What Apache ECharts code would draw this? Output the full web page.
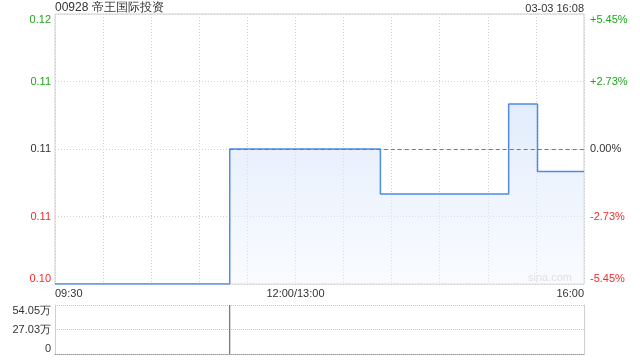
<!DOCTYPE html>
<html><head><meta charset="utf-8">
<script src="https://cdn.jsdelivr.net/npm/echarts@6/dist/echarts.min.js"></script>
<style>html,body{margin:0;padding:0;background:#fff}#c{width:640px;height:360px}</style>
</head><body><div id="c"></div>
<script>
// ---- data ----
const chartTitle = '00928 帝王国际投资';
const stampText = '03-03 16:08';
const prevClose = 0.110;
const changeTimes = ['09:30', '11:19', '13:53', '15:13', '15:31', '16:00'];
const changePrices = [0.104, 0.110, 0.108, 0.112, 0.109, 0.109];
const volumeTimes = ['11:19'];
const volumeValues = [540540];
const timeTickValues = ['09:30', '12:00', '16:00'];
const timeTickLabels = ['09:30', '12:00/13:00', '16:00'];
const priceRangeThousandths = 6;   // ±0.006 around previous close
const priceStepThousandths = 3;

// ---- helpers ----
function toMin(t) {
  const [h, m] = t.split(':').map(Number);
  const v = h * 60 + m;
  return v <= 720 ? v - 570 : v - 780 + 150;
}
const totalMin = toMin('16:00');
const base = Math.round(prevClose * 1000);
const priceData = changeTimes.map((t, i) => [toMin(t), Math.round(changePrices[i] * 1000) - base]);
const volData = volumeTimes.map((t, i) => [toMin(t), volumeValues[i]]);
const volMax = Math.max(...volumeValues);
const tickMap = {};
timeTickValues.forEach((t, i) => { tickMap[toMin(t)] = timeTickLabels[i]; });

const GREEN = '#1fa51f', RED = '#f52a2a', TXT = '#333';
function sideColor(v) { return v > 0 ? GREEN : (v < 0 ? RED : TXT); }
const FONT = 'Liberation Sans, Arial, sans-serif';

const chart = echarts.init(document.getElementById('c'), null, { renderer: 'canvas' });
chart.setOption({
  animation: false,
  textStyle: { fontFamily: FONT },
  grid: [
    { left: 55, top: 14, width: 529, height: 270, show: true, borderColor: '#cfcfcf', borderWidth: 1 },
    { left: 55, top: 305, width: 529, height: 49 }
  ],
  xAxis: [
    {
      gridIndex: 0, type: 'value', min: 0, max: totalMin, interval: 30,
      axisLine: { show: false }, axisTick: { show: false },
      splitLine: { show: true, lineStyle: { color: '#d0d0d0', type: [1, 2] } },
      axisLabel: {
        show: true, margin: 4, color: TXT, fontSize: 11, fontFamily: FONT,
        alignMinLabel: 'left', alignMaxLabel: 'right',
        formatter: v => tickMap[v] || ''
      }
    },
    {
      gridIndex: 1, type: 'value', min: 0, max: totalMin,
      axisLine: { show: true, lineStyle: { color: '#999', type: [1, 1] } },
      axisTick: { show: false }, axisLabel: { show: false }, splitLine: { show: false }
    }
  ],
  yAxis: [
    {
      gridIndex: 0, type: 'value', min: -priceRangeThousandths, max: priceRangeThousandths, interval: priceStepThousandths,
      axisLine: { show: false }, axisTick: { show: false },
      splitLine: { show: true, lineStyle: { color: '#d0d0d0', type: [1, 2] } },
      axisLabel: {
        margin: 4, fontSize: 11, fontFamily: FONT,
        verticalAlignMinLabel: 'bottom', verticalAlignMaxLabel: 'top',
        color: v => sideColor(v),
        formatter: v => ((v + base) / 1000).toFixed(2)
      }
    },
    {
      gridIndex: 0, type: 'value', position: 'right', min: -priceRangeThousandths, max: priceRangeThousandths, interval: priceStepThousandths,
      axisLine: { show: false }, axisTick: { show: false }, splitLine: { show: false },
      axisLabel: {
        margin: 6, fontSize: 11, fontFamily: FONT,
        verticalAlignMinLabel: 'bottom', verticalAlignMaxLabel: 'top',
        color: v => sideColor(v),
        formatter: v => {
          const p = v / base * 100;
          return (p > 0 ? '+' : '') + p.toFixed(2) + '%';
        }
      }
    },
    {
      gridIndex: 1, type: 'value', min: 0, max: volMax, interval: volMax / 2,
      axisLine: { show: true, lineStyle: { color: '#cfcfcf' } }, axisTick: { show: false },
      splitLine: { show: true, lineStyle: { color: '#c8c8c8', type: [1, 1] } },
      axisLabel: {
        margin: 4, fontSize: 11, fontFamily: FONT, color: TXT,
        verticalAlignMinLabel: 'bottom', verticalAlignMaxLabel: 'top',
        formatter: v => v === 0 ? '0' : (v / 10000).toFixed(2) + '万'
      }
    },
    {
      gridIndex: 1, type: 'value', position: 'right', min: 0, max: volMax,
      axisLine: { show: true, lineStyle: { color: '#cfcfcf' } }, axisTick: { show: false },
      splitLine: { show: false }, axisLabel: { show: false }
    }
  ],
  series: [
    {
      type: 'line', xAxisIndex: 0, yAxisIndex: 0, step: 'end', symbol: 'none',
      data: priceData,
      lineStyle: { color: '#4f8be6', width: 1.5 },
      areaStyle: {
        origin: 'start',
        color: new echarts.graphic.LinearGradient(0, 0, 0, 1, [
          { offset: 0, color: 'rgba(210,226,250,0.95)' },
          { offset: 1, color: 'rgba(240,245,254,0.6)' }
        ])
      },
      markLine: {
        silent: true, symbol: 'none', label: { show: false },
        lineStyle: { color: '#777', type: [4, 3], width: 1 },
        data: [[{ coord: [toMin(changeTimes[1]), 0] }, { coord: [totalMin, 0] }]]
      },
      z: 3
    },
    {
      type: 'bar', xAxisIndex: 1, yAxisIndex: 2, barWidth: 1,
      data: volData, itemStyle: { color: '#555' }
    }
  ],
  graphic: [
    { type: 'text', left: 55, top: 2, style: { text: chartTitle, fill: TXT, font: '12px ' + FONT } },
    { type: 'text', right: 56, top: 3, style: { text: stampText, fill: TXT, font: '11px ' + FONT } },
    { type: 'text', right: 68, top: 272, style: { text: 'sina.com', fill: '#cfcfcf', font: '11px ' + FONT } }
  ]
});
</script>
</body></html>
